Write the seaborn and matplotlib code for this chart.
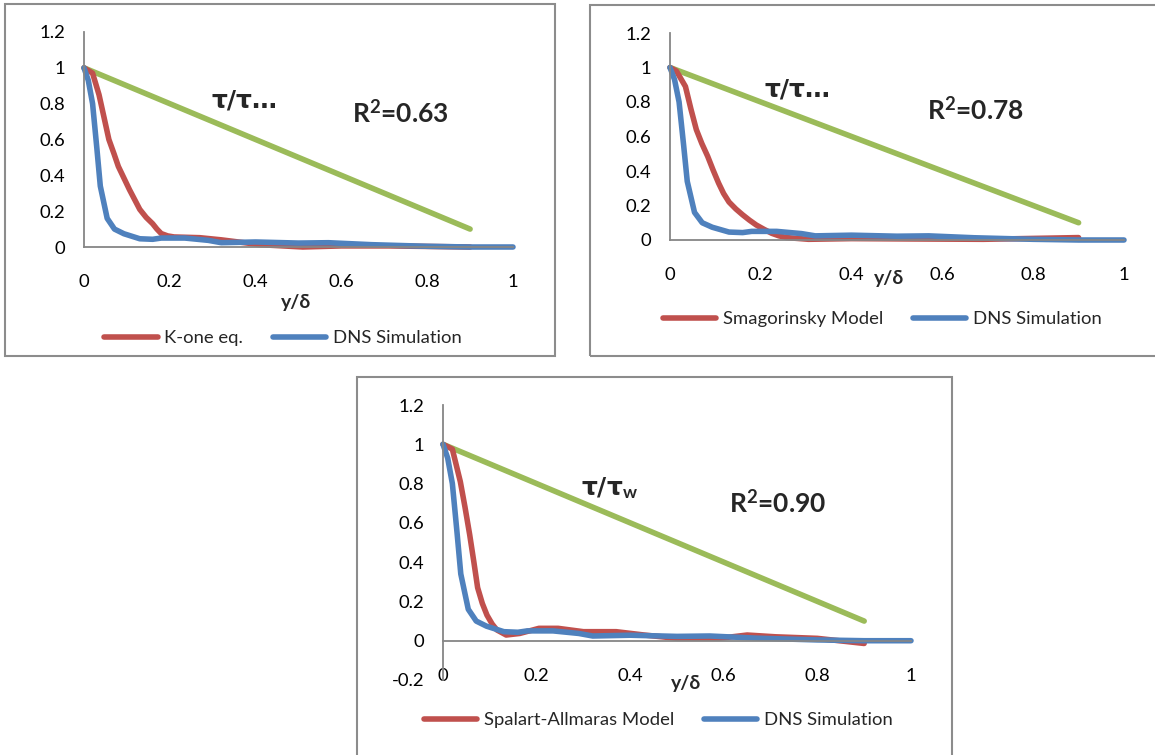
import matplotlib
matplotlib.use("Agg")
import matplotlib.pyplot as plt
import seaborn as sns
from matplotlib.patches import Rectangle
from matplotlib.ticker import FuncFormatter, FixedLocator

# ---------------- data ----------------
dns_x = [0, 0.01, 0.02, 0.03, 0.038, 0.054, 0.071, 0.093, 0.13, 0.16, 0.18, 0.235,
         0.29, 0.32, 0.4, 0.5, 0.57, 0.67, 0.8, 0.9, 1.0]
dns_y = [1.0, 0.93, 0.80, 0.55, 0.34, 0.16, 0.10, 0.074, 0.046, 0.043, 0.05, 0.05,
         0.037, 0.024, 0.028, 0.022, 0.024, 0.013, 0.004, 0.0, 0.0]

kone_x = [0, 0.02, 0.035, 0.047, 0.058, 0.07, 0.08, 0.093, 0.106, 0.118, 0.13, 0.145,
          0.16, 0.17, 0.18, 0.195, 0.21, 0.27, 0.32, 0.41, 0.51, 0.6, 0.71, 0.9]
kone_y = [1.0, 0.97, 0.85, 0.72, 0.60, 0.52, 0.45, 0.385, 0.32, 0.265, 0.21, 0.165,
          0.13, 0.10, 0.075, 0.062, 0.056, 0.052, 0.04, 0.013, 0.0, 0.006, 0.006, 0.0]

smag_x = [0, 0.014, 0.034, 0.046, 0.058, 0.07, 0.083, 0.095, 0.107, 0.118, 0.13, 0.145,
          0.16, 0.175, 0.19, 0.207, 0.224, 0.24, 0.257, 0.305, 0.4, 0.53, 0.69, 0.9]
smag_y = [1.0, 0.98, 0.89, 0.76, 0.64, 0.56, 0.485, 0.405, 0.33, 0.27, 0.22, 0.18,
          0.146, 0.115, 0.087, 0.062, 0.039, 0.024, 0.014, 0.004, 0.008, 0.006, 0.004, 0.014]

sa_x = [0, 0.02, 0.037, 0.047, 0.057, 0.066, 0.074, 0.084, 0.094, 0.105, 0.115, 0.135,
        0.164, 0.205, 0.246, 0.30, 0.37, 0.43, 0.5, 0.59, 0.65, 0.71, 0.8, 0.9]
sa_y = [1.0, 0.975, 0.81, 0.68, 0.54, 0.40, 0.27, 0.19, 0.13, 0.085, 0.055, 0.029,
        0.037, 0.063, 0.063, 0.046, 0.046, 0.029, 0.012, 0.012, 0.029, 0.02, 0.012, -0.014]

tau_x = [0, 0.9]
tau_y = [1.0, 0.1]

model_names = ["K-one eq.", "Smagorinsky Model", "Spalart-Allmaras Model"]
r2_labels = ["0.63", "0.78", "0.90"]
tau_labels = ["τ/τ…", "τ/τ…", "τ/τ$_{\\mathbf{w}}$"]
x_ticks = [0, 0.2, 0.4, 0.6, 0.8, 1]
y_ticks_top = [0, 0.2, 0.4, 0.6, 0.8, 1, 1.2]
y_ticks_bottom = [-0.2, 0, 0.2, 0.4, 0.6, 0.8, 1, 1.2]

# ---------------- style ----------------
sns.set_style("white")
plt.rcParams["font.family"] = ["Lato", "DejaVu Sans"]
plt.rcParams["mathtext.fontset"] = "custom"
plt.rcParams["mathtext.rm"] = "Lato"
plt.rcParams["mathtext.bf"] = "Lato:bold"
plt.rcParams["mathtext.it"] = "Lato:italic"
plt.rcParams["axes.unicode_minus"] = False

RED = "#C0504D"
BLUE = "#4F81BD"
GREEN = "#9BBB59"
GRAY = "#868686"
LW = 4.0
FS = 13.3

W, H = 1155, 755
fig = plt.figure(figsize=(W / 100, H / 100), dpi=100)


def frac(l, t, r, b):
    return [l / W, 1 - b / H, (r - l) / W, (b - t) / H]


# panel borders
for (l, t, r, b) in [(5, 4, 555, 356), (590, 5, 1165, 356), (357, 377, 952, 770)]:
    fig.patches.append(Rectangle((l / W, 1 - b / H), (r - l) / W, (b - t) / H,
                                 transform=fig.transFigure, fill=False,
                                 edgecolor="#8c8c8c", linewidth=1.5, zorder=0))

panels = [
    dict(box=(84, 32, 513, 247), ylim=(0, 1.2), yt=y_ticks_top, mx=kone_x, my=kone_y,
         tau=(0.375, 0.82), r2=(0.737, 0.753), xl=(0.494, -0.26), leg=(283, 338)),
    dict(box=(670, 33, 1124, 240), ylim=(0, 1.2), yt=y_ticks_top, mx=smag_x, my=smag_y,
         tau=(0.28, 0.87), r2=(0.672, 0.755), xl=(0.482, -0.184), leg=(882, 319)),
    dict(box=(443, 405, 911, 680), ylim=(-0.2, 1.2), yt=y_ticks_bottom, mx=sa_x, my=sa_y,
         tau=(0.357, 0.777), r2=(0.716, 0.706), xl=(0.519, -0.011), leg=(658, 720)),
]

fmt = FuncFormatter(lambda v, p: f"{v:g}")

for i, p in enumerate(panels):
    ax = fig.add_axes(frac(*p["box"]))
    ax.set_facecolor("none")
    sns.lineplot(x=tau_x, y=tau_y, ax=ax, color=GREEN, linewidth=LW,
                 solid_capstyle="round")
    sns.lineplot(x=p["mx"], y=p["my"], ax=ax, color=RED, linewidth=LW,
                 solid_capstyle="round", solid_joinstyle="round")
    sns.lineplot(x=dns_x, y=dns_y, ax=ax, color=BLUE, linewidth=LW,
                 solid_capstyle="round", solid_joinstyle="round")
    lines = ax.get_lines()
    for ln in lines:
        ln.set_clip_on(False)

    ax.set_xlim(0, 1)
    ax.set_ylim(*p["ylim"])
    ax.xaxis.set_major_locator(FixedLocator(x_ticks))
    ax.yaxis.set_major_locator(FixedLocator(p["yt"]))
    ax.xaxis.set_major_formatter(fmt)
    ax.yaxis.set_major_formatter(fmt)

    for s in ["top", "right"]:
        ax.spines[s].set_visible(False)
    for s in ["left", "bottom"]:
        ax.spines[s].set_color(GRAY)
        ax.spines[s].set_linewidth(1.3)
    if p["ylim"][0] < 0:
        ax.spines["bottom"].set_position(("data", 0))

    ax.tick_params(axis="both", direction="out", length=3.6, width=1.2,
                   color=GRAY, labelsize=FS, labelcolor="black")
    ax.tick_params(axis="x", pad=16)
    ax.tick_params(axis="y", pad=10)

    ax.set_xlabel("y/δ", fontsize=14, fontweight="bold")
    ax.xaxis.set_label_coords(*p["xl"])
    ax.xaxis.label.set_va("center")
    ax.set_ylabel("")

    ax.text(p["tau"][0], p["tau"][1], tau_labels[i], transform=ax.transData,
            ha="center", va="center", fontsize=18, fontweight="bold",
            family=["DejaVu Sans"])
    ax.text(p["r2"][0], p["r2"][1], "R$^{\\mathbf{2}}$=" + r2_labels[i],
            transform=ax.transData, ha="center", va="center", fontsize=19,
            fontweight="bold")

    ax.legend([lines[1], lines[2]], [model_names[i], "DNS Simulation"],
              loc="center", bbox_to_anchor=(p["leg"][0] / W, 1 - p["leg"][1] / H),
              bbox_transform=fig.transFigure, ncol=2, frameon=False,
              fontsize=FS, handlelength=2.9, handletextpad=0.35,
              columnspacing=1.6)

fig.savefig("out.png", dpi=100)
